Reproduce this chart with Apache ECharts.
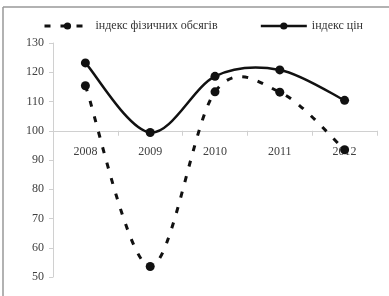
<!DOCTYPE html>
<html lang="uk">
<head>
    <meta charset="utf-8">
    <title>Індекси</title>
    <script src="https://cdn.jsdelivr.net/npm/echarts@6/dist/echarts.min.js"></script>
    <style>
        html, body { margin: 0; padding: 0; background: #fff; }
        #main { width: 389px; height: 296px; }
    </style>
</head>
<body>
<div id="main"></div>
<script type="text/javascript">
    var years = ['2008', '2009', '2010', '2011', '2012'];
    var physVolume = [115.4, 53.6, 113.3, 113.2, 93.5];
    var priceIndex = [123.2, 99.4, 118.6, 120.8, 110.4];
    var seriesNames = ['індекс фізичних обсягів', 'індекс цін'];

    var font = '"Liberation Serif", "Times New Roman", serif';
    var dashStyle = [6, 10];

    // smooth curve like in Excel (Catmull-Rom bezier), drawn from axis coords
    function curveItem(values, lineStyle) {
        return function (params, api) {
            if (params.dataIndex !== 0) return null;
            var pts = values.map(function (v, i) { return api.coord([i, v]); });
            var d = 'M' + pts[0][0] + ' ' + pts[0][1];
            for (var i = 0; i < pts.length - 1; i++) {
                var p0 = pts[Math.max(i - 1, 0)];
                var p1 = pts[i];
                var p2 = pts[i + 1];
                var p3 = pts[Math.min(i + 2, pts.length - 1)];
                var c1x = p1[0] + (p2[0] - p0[0]) / 6;
                var c1y = p1[1] + (p2[1] - p0[1]) / 6;
                var c2x = p2[0] - (p3[0] - p1[0]) / 6;
                var c2y = p2[1] - (p3[1] - p1[1]) / 6;
                d += ' C' + c1x + ' ' + c1y + ' ' + c2x + ' ' + c2y + ' ' + p2[0] + ' ' + p2[1];
            }
            return {
                type: 'path',
                shape: { pathData: d },
                style: lineStyle
            };
        };
    }

    function toPairs(values) {
        return values.map(function (v, i) { return [i, v]; });
    }

    var myChart = echarts.init(document.getElementById('main'));
    myChart.setOption({
        backgroundColor: '#ffffff',
        animation: false,
        textStyle: { fontFamily: font },
        graphic: [
            { type: 'line', shape: { x1: 3, y1: 7, x2: 389, y2: 7 }, style: { stroke: '#999', lineWidth: 1.5 } },
            { type: 'line', shape: { x1: 3, y1: 7, x2: 3, y2: 296 }, style: { stroke: '#999', lineWidth: 1.5 } }
        ],
        legend: {
            top: 15,
            left: 38,
            itemWidth: 46,
            itemHeight: 9,
            itemGap: 42,
            textStyle: { fontFamily: font, fontSize: 12, color: '#333' },
            data: [
                { name: seriesNames[0], lineStyle: { opacity: 1, color: '#111', width: 3, type: dashStyle } },
                { name: seriesNames[1], lineStyle: { opacity: 1, color: '#111', width: 2.5, type: 'solid' } }
            ]
        },
        grid: { left: 53, right: 12, top: 43, bottom: 19 },
        xAxis: {
            type: 'category',
            data: years,
            boundaryGap: true,
            offset: -146.25,
            axisLine: { onZero: false, lineStyle: { color: '#d0d0d0', width: 1 } },
            axisTick: { show: true, length: 5, lineStyle: { color: '#d0d0d0' } },
            axisLabel: { fontFamily: font, fontSize: 12, color: '#404040', margin: 15 }
        },
        yAxis: {
            type: 'value',
            min: 50,
            max: 130,
            interval: 10,
            splitLine: { show: false },
            axisLine: { show: true, lineStyle: { color: '#d0d0d0', width: 1 } },
            axisTick: { show: true, length: 4, lineStyle: { color: '#d0d0d0' } },
            axisLabel: { fontFamily: font, fontSize: 12, color: '#404040', margin: 9 }
        },
        series: [
            {
                type: 'custom',
                z: 1,
                data: toPairs(physVolume),
                renderItem: curveItem(physVolume, { fill: null, stroke: '#111', lineWidth: 3, lineDash: dashStyle })
            },
            {
                type: 'custom',
                z: 1,
                data: toPairs(priceIndex),
                renderItem: curveItem(priceIndex, { fill: null, stroke: '#111', lineWidth: 2.5 })
            },
            {
                name: seriesNames[0],
                type: 'line',
                z: 2,
                data: physVolume,
                symbol: 'circle',
                symbolSize: 9,
                itemStyle: { color: '#111' },
                lineStyle: { color: '#111', width: 3, type: dashStyle, opacity: 0 }
            },
            {
                name: seriesNames[1],
                type: 'line',
                z: 2,
                data: priceIndex,
                symbol: 'circle',
                symbolSize: 9,
                itemStyle: { color: '#111' },
                lineStyle: { color: '#111', width: 2.5, opacity: 0 }
            }
        ]
    });
</script>
</body>
</html>
